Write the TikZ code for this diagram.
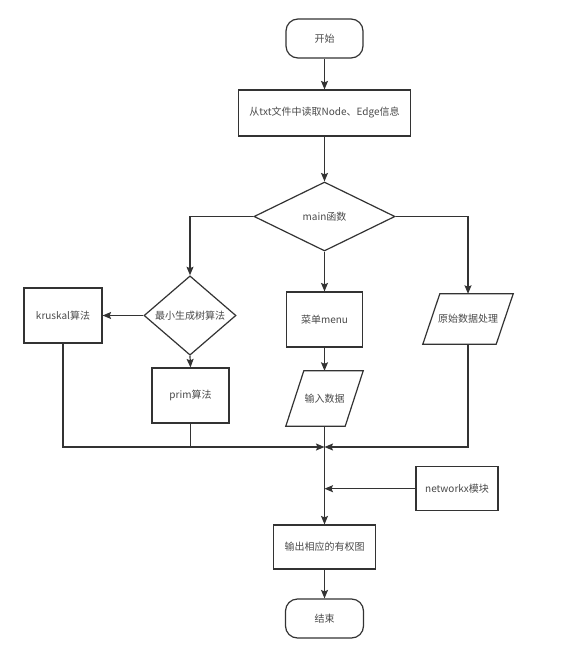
\documentclass[tikz,border=0pt]{standalone}
\usepackage{fontspec}
\setmainfont{Noto Sans CJK SC}
\usetikzlibrary{shapes.geometric,arrows.meta}
\definecolor{lncol}{HTML}{333333}
\definecolor{txcol}{HTML}{4A4A4A}
\begin{document}
\begin{tikzpicture}[x=1pt,y=-1pt,
  font=\fontsize{10}{12}\selectfont,
  box/.style={draw=lncol, line width=1.2pt, rectangle, inner sep=0pt, text=txcol},
  term/.style={box, rounded corners=12pt},
  dia/.style={draw=lncol, line width=1.2pt, diamond, inner sep=0pt, text=txcol},
  plain/.style={rectangle, inner sep=0pt, text=txcol},
  conn/.style={draw=lncol, line width=1.2pt},
  arr/.style={conn, -{Stealth[length=8.5pt,width=7pt,inset=1.5pt]}}]
\useasboundingbox (0,0) rectangle (576,671);
\fill[white] (0,0) rectangle (576,671);

\node[term, minimum width=77pt, minimum height=39pt] (start) at (324.5,38.5) {开始};
\node[box, minimum width=172pt, minimum height=46pt] (read) at (324.5,113) {从txt文件中读取Node、Edge信息};
\node[dia, minimum width=141pt, minimum height=69pt] (main) at (324.5,216.5) {main函数};
\node[dia, minimum width=92pt, minimum height=61pt] (mst) at (190,315.5) {最小生成树算法};
\node[box, minimum width=78pt, minimum height=55pt] (kru) at (63,315.5) {kruskal算法};
\node[box, minimum width=76pt, minimum height=55pt] (menu) at (324.5,319.5) {菜单menu};
\node[plain, minimum width=73pt, minimum height=50pt] (raw) at (468,319) {原始数据处理};
\node[box, minimum width=77pt, minimum height=55pt] (prim) at (190.5,395.5) {prim算法};
\node[plain, minimum width=59pt, minimum height=55pt] (inp) at (324.5,398.5) {输入数据};
\node[box, minimum width=82pt, minimum height=44pt] (nx) at (457,488.7) {networkx模块};
\node[box, minimum width=102pt, minimum height=44pt] (out) at (324.5,547) {输出相应的有权图};
\node[term, minimum width=78pt, minimum height=39pt] (end) at (324.5,618.5) {结束};

% parallelograms
\draw[conn, line join=miter] ([xshift=8.5pt]raw.north west) -- ([xshift=8.5pt]raw.north east)
  -- ([xshift=-8.5pt]raw.south east) -- ([xshift=-8.5pt]raw.south west) -- cycle;
\draw[conn, line join=miter] ([xshift=9pt]inp.north west) -- ([xshift=9pt]inp.north east)
  -- ([xshift=-9pt]inp.south east) -- ([xshift=-9pt]inp.south west) -- cycle;

\coordinate (m) at (324.5,447);
\coordinate (nxin) at (324.5,488.7);

\draw[arr] (start) -- (read);
\draw[arr] (read) -- (main);
\draw[arr] (main.west) -| (mst.north);
\draw[arr] (main.south) -- (menu.north);
\draw[arr] (main.east) -| (raw.north);
\draw[arr] (mst.west) -- (kru.east);
\draw[arr] (mst.south) -- (prim.north);
\draw[arr] (menu.south) -- (inp.north);
\draw[arr] (kru.south) |- (m);
\draw[conn] (prim.south) -- (prim.south |- m);
\draw[arr] (raw.south) |- (m);
\draw[arr] (inp.south) -- (out.north);
\draw[arr] (nx.west) -- (nxin);
\draw[arr] (out.south) -- (end.north);
\end{tikzpicture}
\end{document}
